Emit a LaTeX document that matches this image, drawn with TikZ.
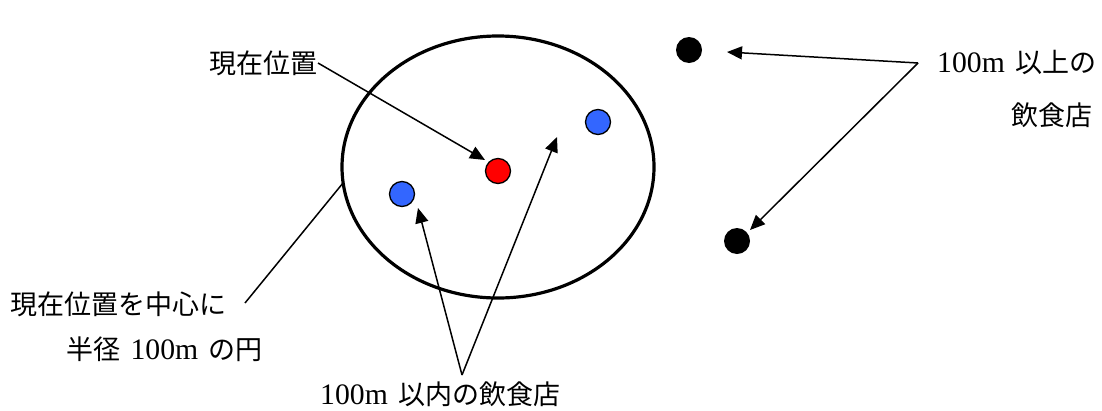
\documentclass[tikz,border=0pt]{standalone}
\usepackage{fontspec}
\setmainfont{Liberation Serif}
\newfontfamily\jp{Noto Sans CJK JP}
\usetikzlibrary{arrows.meta,shapes.geometric}
\begin{document}
\begin{tikzpicture}[x=1pt,y=-1pt,
  lbl/.style={inner sep=0pt, font=\fontsize{27}{31}\selectfont\jp},
  lat/.style={inner sep=0pt, font=\fontsize{29.7}{31}\selectfont},
  conn/.style={line width=1.5pt},
  arr/.style={conn,-{Triangle[length=15pt,width=13pt]}},
  dot/.style={circle,draw=black,line width=1.3pt,minimum size=25pt,inner sep=0pt},
  bdot/.style={circle,fill=black,minimum size=26pt,inner sep=0pt}]
\definecolor{dotblue}{HTML}{3366FF}
\useasboundingbox (0,0) rectangle (1102,410);
% circle area
\node[ellipse, draw, line width=3.2pt, minimum width=312pt, minimum height=262pt] (area) at (498,167) {};
% dots
\node[dot, fill=red] (cur) at (498,171) {};
\node[dot, fill=dotblue] (inA) at (402,194) {};
\node[dot, fill=dotblue] (inB) at (598,122) {};
\node[bdot] (outA) at (689,50) {};
\node[bdot] (outB) at (737,241) {};
% labels
\node[lbl, anchor=east] (lcur) at (318,63) {現在位置};
\node[lbl, anchor=west] (lcircA) at (10,304) {現在位置を中心に};
\node[lbl, anchor=base west] (lcircB1) at (66,359) {半径};
\node[lat, anchor=base west] (lcircB2) at ([xshift=10pt]lcircB1.base east) {100m};
\node[lbl, anchor=base west] (lcircB3) at ([xshift=10pt]lcircB2.base east) {の円};
\node[lat, anchor=base west] (lin1) at (320,404) {100m};
\node[lbl, anchor=base west] (lin2) at ([xshift=10pt]lin1.base east) {以内の飲食店};
\node[lat, anchor=base west] (lout1) at (937,72) {100m};
\node[lbl, anchor=base west] (lout2) at ([xshift=10pt]lout1.base east) {以上の};
\node[lbl, anchor=east] (lout3) at (1093,115) {飲食店};
% connector end points
\coordinate (areaW) at (343,183);
\coordinate (circEnd) at (245,303);
\coordinate (curTip) at (485,160);
\coordinate (linTop) at (462,375);
\coordinate (inATip) at (418,208);
\coordinate (inBTip) at (557,137);
\coordinate (outV) at (918,63);
\coordinate (outATip) at (727,52);
\coordinate (outBTip) at (750,230);
% connectors
\draw[arr] (lcur.east) -- (curTip);
\draw[conn] (circEnd) -- (areaW);
\draw[arr] (linTop) -- (inATip);
\draw[arr] (linTop) -- (inBTip);
\draw[arr] (outV) -- (outATip);
\draw[arr] (outV) -- (outBTip);
\end{tikzpicture}
\end{document}
